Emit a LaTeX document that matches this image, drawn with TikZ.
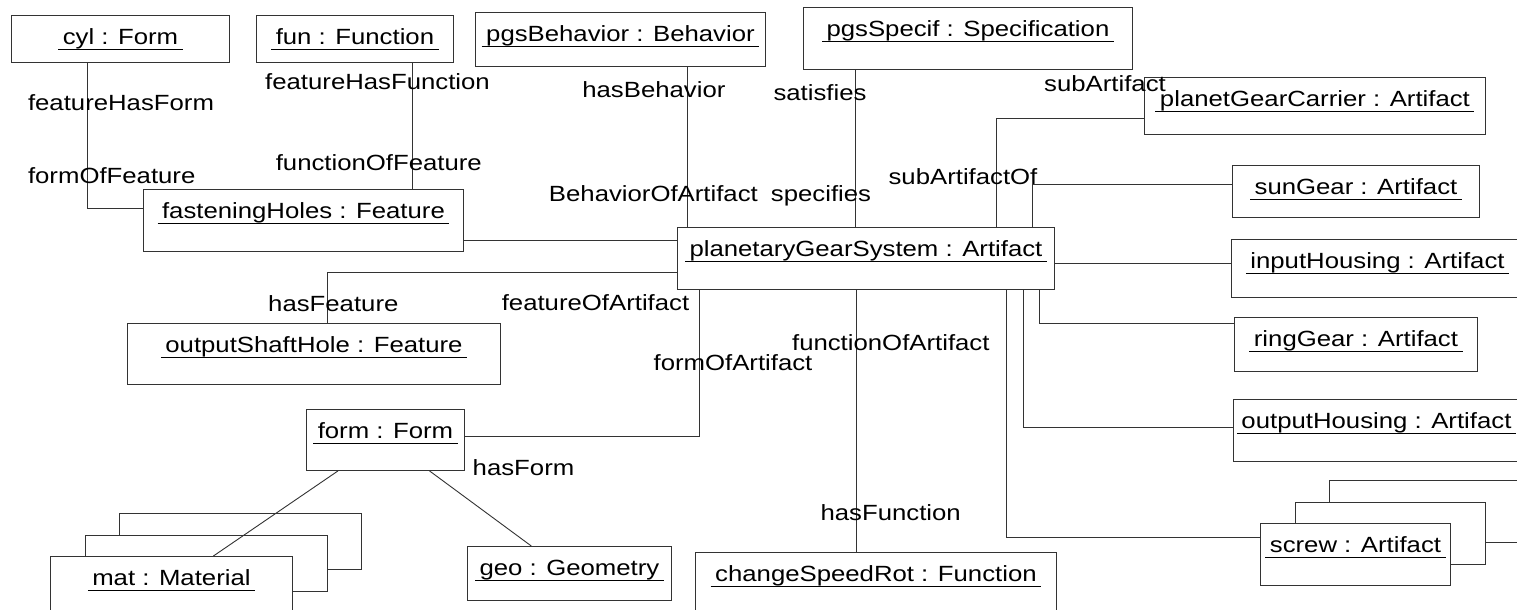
\documentclass[tikz,border=0pt]{standalone}
\usepackage{fontspec}
\setmainfont{Liberation Sans}[FakeStretch=1.17]
\usetikzlibrary{shadows}

% underlined object name, rule a little wider than the text
\newcommand{\objname}[1]{\setbox0=\hbox{\kern4.5pt#1\kern4.5pt}\rlap{\rule[-5pt]{\wd0}{0.9pt}}\box0}

\tikzset{
  obj/.style={draw=black!80, fill=white, line width=0.9pt, anchor=north west, inner sep=0pt,
    label={[anchor=base, yshift=-29.5pt, inner sep=0pt]north:\objname{#1}}},
  stack/.style={
    copy shadow={shadow xshift=69pt, shadow yshift=43pt, fill=white, draw=black!80, line width=0.9pt},
    copy shadow={shadow xshift=34.5pt, shadow yshift=21.5pt, fill=white, draw=black!80, line width=0.9pt}},
  role/.style={anchor=base, inner sep=0pt},
  link/.style={draw=black!80, line width=0.9pt}
}

\begin{document}
\begin{tikzpicture}[x=1pt, y=-1pt, font=\fontsize{22pt}{26pt}\selectfont]
			\useasboundingbox (0,0) rectangle (1517,610);
			% objects
			\node[obj=cyl : Form, minimum width=218pt, minimum height=47pt] (cyl) at (11,15) {};
			\node[obj=fun : Function, minimum width=197pt, minimum height=47pt] (fun) at (256,15) {};
			\node[obj=pgsBehavior : Behavior, minimum width=290pt, minimum height=54pt] (behavior) at (475,12) {};
			\node[obj=pgsSpecif : Specification, minimum width=329pt, minimum height=62pt] (specif) at (803,7) {};
			\node[obj=fasteningHoles : Feature, minimum width=320pt, minimum height=62pt] (holes) at (143,189) {};
			\node[obj=planetaryGearSystem : Artifact, minimum width=377pt, minimum height=62pt] (pgs) at (677,227) {};
			\node[obj=planetGearCarrier : Artifact, minimum width=341pt, minimum height=57pt] (carrier) at (1144,77) {};
			\node[obj=sunGear : Artifact, minimum width=247pt, minimum height=52pt] (sun) at (1232,165) {};
			\node[obj=inputHousing : Artifact, minimum width=292pt, minimum height=58pt] (inhousing) at (1231,239) {};
			\node[obj=ringGear : Artifact, minimum width=243pt, minimum height=54pt] (ring) at (1234,317) {};
			\node[obj=outputHousing : Artifact, minimum width=286pt, minimum height=62pt] (outhousing) at (1233,399) {};
			\node[obj=screw : Artifact, stack, minimum width=190pt, minimum height=62pt] (screw) at (1260,523) {};
			\node[obj=outputShaftHole : Feature, minimum width=373pt, minimum height=61pt] (shaft) at (127,323) {};
			\node[obj=form : Form, minimum width=158pt, minimum height=61pt] (form) at (306,409) {};
			\node[obj=mat : Material, stack, minimum width=242pt, minimum height=56pt] (mat) at (50,556) {};
			\node[obj=geo : Geometry, minimum width=204pt, minimum height=54pt] (geo) at (467,546) {};
			\node[obj=changeSpeedRot : Function, minimum width=361pt, minimum height=62pt] (change) at (695,552) {};

			% links
			\draw[link] ([xshift=76.3pt]cyl.south west) |- ([yshift=12.3pt]holes.west);
			\draw[link] ([xshift=156.3pt]fun.south west) coordinate (funlink) -- (funlink |- holes.north);
			\draw[link] ([xshift=212.5pt]behavior.south west) coordinate (behlink) -- (behlink |- pgs.north);
			\draw[link] ([xshift=52pt]specif.south west) coordinate (speclink) -- (speclink |- pgs.north);
			\draw[link] ([yshift=-20pt]holes.east) coordinate (holelink) -- (holelink -| pgs.west);
			\draw[link] ([xshift=319.5pt]pgs.north west) |- ([yshift=-12.8pt]carrier.west);
			\draw[link] ([xshift=355pt]pgs.north west) |- ([yshift=7pt]sun.west);
			\draw[link] ([yshift=-4.7pt]pgs.east) coordinate (inlink) -- (inlink -| inhousing.west);
			\draw[link] ([xshift=362pt]pgs.south west) |- ([yshift=20.7pt]ring.west);
			\draw[link] ([xshift=346.3pt]pgs.south west) |- ([yshift=3pt]outhousing.west);
			\draw[link] ([xshift=329.5pt]pgs.south west) |- ([yshift=17.5pt]screw.west);
			\draw[link] ([xshift=179.5pt]pgs.south west) coordinate (funclink) -- (funclink |- change.north);
			\draw[link] ([xshift=22pt]pgs.south west) |- ([yshift=3.8pt]form.east);
			\draw[link] ([yshift=-13.5pt]pgs.west) -| ([xshift=200.7pt]shaft.north west);
			\draw[link] ([xshift=32pt]form.south west) -- ([xshift=163.4pt]mat.north west);
			\draw[link] ([xshift=123.5pt]form.south west) -- ([xshift=64.3pt]geo.north west);

			% role names
			\node[role] (hasform1) at (121,110) {featureHasForm};
			\node[role] (formof1) at (111.7,183) {formOfFeature};
			\node[role] (hasfun1) at (377.5,89.5) {featureHasFunction};
			\node[role] (funof1) at (378.8,170) {functionOfFeature};
			\node[role] (hasbeh) at (653.9,97.3) {hasBehavior};
			\node[role] (behof) at (653.4,201) {BehaviorOfArtifact};
			\node[role] (satisfies) at (820,100) {satisfies};
			\node[role] (specifies) at (821,201.5) {specifies};
			\node[role] (subof) at (963,184) {subArtifactOf};
			\node[role] (sub) at (1105,92) {subArtifact};
			\node[role] (hasfeat) at (333.3,311) {hasFeature};
			\node[role] (featof) at (595.5,310.7) {featureOfArtifact};
			\node[role] (formof2) at (733,370.7) {formOfArtifact};
			\node[role] (funof2) at (890.8,350) {functionOfArtifact};
			\node[role] (hasform2) at (523.5,475) {hasForm};
			\node[role] (hasfun2) at (890.7,520) {hasFunction};
		\end{tikzpicture}
\end{document}
